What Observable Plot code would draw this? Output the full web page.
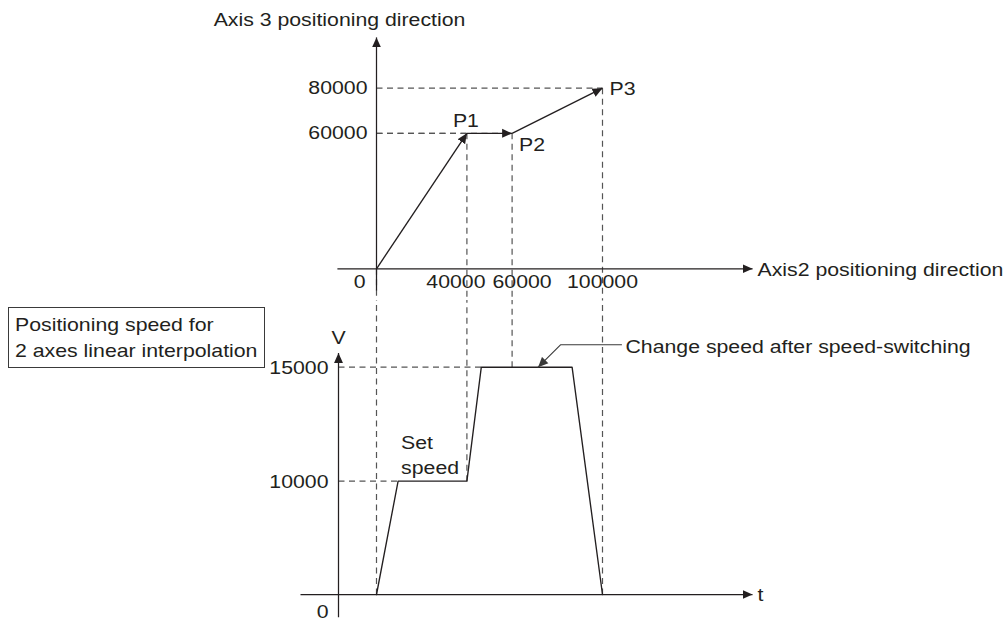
<!DOCTYPE html>
<html>
<head>
<meta charset="utf-8">
<script src="https://cdn.jsdelivr.net/npm/d3@7"></script>
<script src="https://cdn.jsdelivr.net/npm/@observablehq/plot@0.6"></script>
<style>
  html, body { margin: 0; padding: 0; background: #fff; }
  #wrap { position: relative; width: 1007px; height: 623px; overflow: hidden;
          font-family: "Liberation Sans", Arial, sans-serif; color: #231f20; }
  #top { position: absolute; left: 0; top: 0; }
  #bottom { position: absolute; left: 0; top: 300px; }
  #box { position: absolute; left: 8px; top: 307px; width: 257px; height: 61px; box-sizing: border-box;
         border: 1.2px solid #3a3a3a; padding: 3.8px 0 0 5.8px; background: #fff; }
  #box div { height: 26.7px; line-height: 26.7px; font-size: 18.5px; white-space: nowrap; }
  #box span { display: inline-block; transform: scaleX(1.15); transform-origin: 0 50%; }
</style>
</head>
<body>
<div id="wrap">
  <div id="top"></div>
  <div id="bottom"></div>
  <div id="box"><div><span>Positioning speed for</span></div><div><span>2 axes linear interpolation</span></div></div>
</div>
<script>
// ---------- data: positioning (upper diagram) ----------
const pointLabels = ["P1", "P2", "P3"];
const axis2Address = [40000, 60000, 100000];
const axis3Address = [60000, 60000, 80000];
const axis2TickLabels = ["40000", "60000", "100000"];
const axis3TickValues = [60000, 80000];

// ---------- data: speed profile (lower diagram, schematic time in ms) ----------
const speedTime = [95, 149, 321, 357, 584, 660];
const speedValue = [0, 10000, 10000, 15000, 15000, 0];
const speedTickValues = [10000, 15000];
const passTime = [95, 321, 434, 660];      // start, P1, P2, P3 passed
const passSpeed = [0, 10000, 15000, 0];
const leaderTime = [707.5, 555, 499];
const leaderSpeed = [15845, 15845, 15000];

// ---------- styling ----------
const ink = "#231f20";
const dashInk = "#555555";
const dash = {stroke: dashInk, strokeWidth: 1.2, strokeDasharray: "6,4.5"};
const solid = {stroke: ink, strokeWidth: 1.25};
const textStyle = {fill: ink};
const svgStyle = {fontFamily: "'Liberation Sans', Arial, sans-serif", fontSize: "18.5px",
                  background: "transparent", overflow: "hidden", color: ink};

function finish(svg) {
  const NS = "http://www.w3.org/2000/svg";
  svg.querySelectorAll("marker").forEach(m => {
    const color = m.getAttribute("stroke") || ink;
    while (m.firstChild) m.removeChild(m.firstChild);
    m.setAttribute("viewBox", "-10 -5 10 10");
    m.setAttribute("markerUnits", "userSpaceOnUse");
    m.setAttribute("markerWidth", "10");
    m.setAttribute("markerHeight", "10");
    m.setAttribute("refX", "0");
    m.setAttribute("refY", "0");
    m.setAttribute("orient", "auto");
    m.setAttribute("fill", color);
    m.setAttribute("stroke", "none");
    m.removeAttribute("stroke-width");
    const p = document.createElementNS(NS, "path");
    p.setAttribute("d", "M-10,-4.5L0,0L-10,4.5Z");
    p.setAttribute("fill", color);
    m.appendChild(p);
  });
  // the reference lettering is set slightly wide: stretch each label about its anchor
  svg.querySelectorAll("text").forEach(t => {
    const tr = t.getAttribute("transform") || "";
    t.setAttribute("transform", tr + " scale(1.15,1)");
  });
  return svg;
}

// ---------- upper diagram ----------
const points = pointLabels.map((name, i) => ({name, x: axis2Address[i], y: axis3Address[i]}));
const path = [{x: 0, y: 0}, ...points];
const segments = points.map((p, i) => ({x1: path[i].x, y1: path[i].y, x2: p.x, y2: p.y}));
const pointDx = [-1, 20, 20], pointDy = [-12, 12, 1];
const tickDx = [-11, 10, 0];

const topPlot = Plot.plot({
  width: 1007, height: 300, margin: 0,
  x: {domain: [0, 100000], range: [376, 602], axis: null},
  y: {domain: [0, 80000], range: [268.3, 87.7], axis: null},
  style: svgStyle,
  marks: [
    Plot.link(points, {x1: 0, x2: "x", y1: "y", y2: "y", ...dash}),
    Plot.link(path, {x1: "x", x2: "x", y1: "y", y2: -30000, ...dash}),
    Plot.link([0], {x1: 0, x2: 0, y1: -9600, y2: 102500, ...solid, markerEnd: "arrow"}),
    Plot.link([0], {x1: -17300, x2: 166400, y1: 0, y2: 0, ...solid, markerEnd: "arrow"}),
    Plot.link(segments, {x1: "x1", y1: "y1", x2: "x2", y2: "y2", stroke: ink, strokeWidth: 1.35, markerEnd: "arrow"}),
    Plot.text(axis3TickValues, {x: 0, y: d => d, text: d => String(d), textAnchor: "end", dx: -9, ...textStyle}),
    Plot.text(["0"], {x: 0, y: 0, text: d => d, textAnchor: "end", dx: -11, dy: 13, ...textStyle}),
    ...axis2TickLabels.map((label, i) =>
      Plot.text([label], {x: axis2Address[i], y: 0, text: d => d, dx: tickDx[i], dy: 13, ...textStyle})),
    ...points.map((p, i) =>
      Plot.text([p], {x: "x", y: "y", text: "name", dx: pointDx[i], dy: pointDy[i], ...textStyle})),
    Plot.text(["Axis 3 positioning direction"], {x: 0, y: 102500, text: d => d, dx: -37, dy: -17, ...textStyle}),
    Plot.text(["Axis2 positioning direction"], {x: 166400, y: 0, text: d => d, textAnchor: "start", dx: 5, dy: 1, ...textStyle})
  ]
});
document.getElementById("top").appendChild(finish(topPlot));

// ---------- lower diagram ----------
const speed = speedTime.map((t, i) => ({t, v: speedValue[i]}));
const pass = passTime.map((t, i) => ({t, v: passSpeed[i]}));
const levels = speedTickValues.map(v => ({v, t: speed.find(d => d.v >= v).t}));
const leader = leaderTime.map((t, i) => ({t, v: leaderSpeed[i]}));

const bottomPlot = Plot.plot({
  width: 1007, height: 323, margin: 0,
  x: {domain: [0, 1000], range: [338, 738], axis: null},
  y: {type: "pow", exponent: 1.717, domain: [0, 15000], range: [294, 66.7], axis: null},
  style: svgStyle,
  marks: [
    Plot.link(pass, {x1: "t", x2: "t", y1: "v", y2: 40000, ...dash}),
    Plot.link(levels, {x1: 0, x2: "t", y1: "v", y2: "v", ...dash}),
    Plot.link([0], {x1: 0, x2: 0, y1: -3930, y2: 15536, ...solid, markerEnd: "arrow"}),
    Plot.link([0], {x1: -95, x2: 1035, y1: 0, y2: 0, ...solid, markerEnd: "arrow"}),
    Plot.line(speed, {x: "t", y: "v", stroke: ink, strokeWidth: 1.35}),
    Plot.line(leader, {x: "t", y: "v", stroke: "#3a3a3a", strokeWidth: 1.1, markerEnd: "arrow"}),
    Plot.text(speedTickValues, {x: 0, y: d => d, text: d => String(d), textAnchor: "end", dx: -10, dy: 0.5, ...textStyle}),
    Plot.text(["0"], {x: 0, y: 0, text: d => d, textAnchor: "end", dx: -10, dy: 18, ...textStyle}),
    Plot.text(["V"], {x: 0, y: 15536, text: d => d, dy: -15, ...textStyle}),
    Plot.text(["t"], {x: 1035, y: 0, text: d => d, textAnchor: "start", dx: 5, dy: 1, ...textStyle}),
    Plot.text([speed[1]], {x: "t", y: "v", text: () => "Set\nspeed", textAnchor: "start", lineAnchor: "bottom",
                           lineHeight: 1.35, dx: 3, dy: -7, ...textStyle}),
    Plot.text([leader[0]], {x: "t", y: "v", text: () => "Change speed after speed-switching", textAnchor: "start",
                            dx: 4, dy: 2.5, ...textStyle})
  ]
});
document.getElementById("bottom").appendChild(finish(bottomPlot));
</script>
</body>
</html>
